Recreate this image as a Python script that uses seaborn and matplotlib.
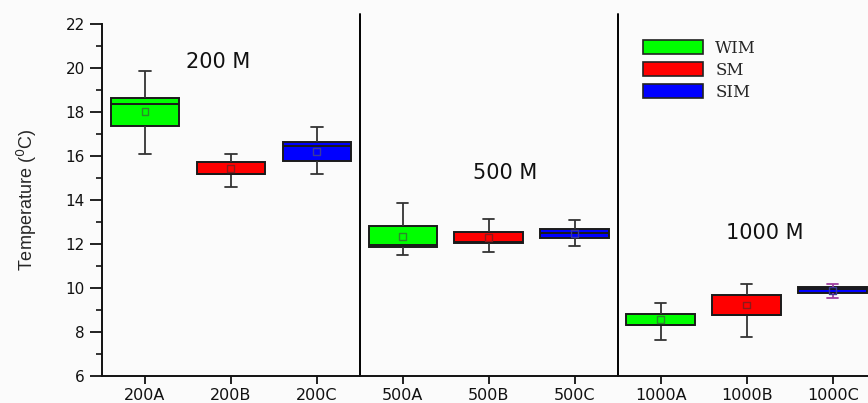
import numpy as np
import pandas as pd
import matplotlib
matplotlib.use("Agg")
import matplotlib.pyplot as plt
from matplotlib.patches import Patch
import seaborn as sns

# Sites and the method used at each one
categories = ["200A", "200B", "200C", "500A", "500B", "500C", "1000A", "1000B", "1000C"]
methods = ["WIM", "SM", "SIM", "WIM", "SM", "SIM", "WIM", "SM", "SIM"]

# Five-number summaries (min, Q1, median, Q3, max) and means, in °C
whisk_low = [16.09, 14.60, 15.17, 11.50, 11.62, 11.92, 7.64, 7.79, 9.53]
q1        = [17.38, 15.17, 15.76, 11.88, 12.06, 12.26, 8.32, 8.77, 9.76]
median    = [18.35, 15.19, 16.47, 11.95, 12.08, 12.49, 8.33, 8.78, 9.95]
q3        = [18.65, 15.71, 16.65, 12.83, 12.55, 12.68, 8.83, 9.68, 10.03]
whisk_high = [19.86, 16.10, 17.33, 13.85, 13.14, 13.08, 9.30, 10.18, 10.18]
means     = [18.03, 15.44, 16.23, 12.36, 12.30, 12.50, 8.58, 9.23, 9.90]

groups = ["200 M", "500 M", "1000 M"]
palette = {"WIM": "#00ff00", "SM": "#ff0000", "SIM": "#0000ff"}
mean_edge = {"WIM": "#2a8a2a", "SM": "#8a1a1a", "SIM": "#3a3a9a"}

rows = []
for i, cat in enumerate(categories):
    for v in (whisk_low[i], q1[i], median[i], q3[i], whisk_high[i]):
        rows.append({"site": cat, "method": methods[i], "temp": v})
df = pd.DataFrame(rows)
df_means = pd.DataFrame({"site": categories, "method": methods, "temp": means})

sns.set_style("ticks")
plt.rcParams["font.family"] = ["DejaVu Sans"]

fig = plt.figure(figsize=(8.68, 4.03), dpi=100, facecolor="#fbfbfb")
ax = fig.add_axes([0.1175, 0.067, 0.8825, 0.873])
ax.set_facecolor("#fbfbfb")

box_kw = dict(
    x="site", y="temp", hue="method", order=categories, hue_order=["WIM", "SM", "SIM"],
    palette=palette, saturation=1, dodge=False, width=0.8, whis=(0, 100), legend=False,
    ax=ax, linewidth=1.4, linecolor="#1a1a1a", capwidths=0.13,
    medianprops=dict(color="#1a1a1a", linewidth=1.4),
    capprops=dict(color="#333333", linewidth=1.3),
)
main = df[df["site"] != "1000C"]
last = df[df["site"] == "1000C"]
sns.boxplot(data=main, whiskerprops=dict(color="#333333", linewidth=1.3), **box_kw)
box_kw["capprops"] = dict(color="#a040a0", linewidth=1.3)
sns.boxplot(data=last, whiskerprops=dict(color="#a040a0", linewidth=1.3), **box_kw)

# Mean markers: small hollow squares
n_before = len(ax.collections)
sns.stripplot(data=df_means, x="site", y="temp", hue="method", order=categories,
              hue_order=["WIM", "SM", "SIM"], palette=mean_edge, jitter=False,
              dodge=False, marker="s", size=5, linewidth=1, legend=False, ax=ax)
for coll in ax.collections[n_before:]:
    ec = coll.get_facecolor()
    coll.set_edgecolor(ec)
    coll.set_facecolor("none")

# Group separators
for x in (2.5, 5.5):
    ax.axvline(x, ymin=0, ymax=1.03, color="black", linewidth=1.4, clip_on=False)

# Group labels
for label, (gx, gy) in zip(groups, [(0.85, 20.27), (4.19, 15.23), (7.21, 12.5)]):
    ax.text(gx, gy, label, ha="center", va="center", fontsize=15, color="#111111")

ax.set_xlim(-0.5, 8.41)
ax.set_ylim(6, 22)
ax.set_yticks(np.arange(6, 23, 2))
ax.set_yticks(np.arange(7, 22, 2), minor=True)
ax.tick_params(axis="y", which="major", length=9, width=1.3, labelsize=11, colors="#111111")
ax.tick_params(axis="y", which="minor", length=4.5, width=1.3)
ax.tick_params(axis="x", length=6, width=1.3, labelsize=11.5, colors="#111111", pad=3)
ax.set_xlabel("")
ax.set_ylabel("Temperature ($^0$C)", fontsize=13, family=["Liberation Sans", "DejaVu Sans"])
ax.yaxis.set_label_coords(-0.082, 0.5)
sns.despine(ax=ax, top=True, right=True)
for side in ("left", "bottom"):
    ax.spines[side].set_linewidth(1.4)
    ax.spines[side].set_color("#111111")

handles = [Patch(facecolor=palette[m], edgecolor="#222222", linewidth=1.2, label=m)
           for m in ["WIM", "SM", "SIM"]]
fig.legend(handles=handles, loc="upper left", bbox_to_anchor=(0.727, 0.93),
           frameon=False, handlelength=3.6, handleheight=0.85, labelspacing=0.3,
           handletextpad=0.75, borderpad=0.2,
           prop={"family": ["DejaVu Serif"], "size": 12})

fig.savefig("out.png", dpi=100, facecolor=fig.get_facecolor())
